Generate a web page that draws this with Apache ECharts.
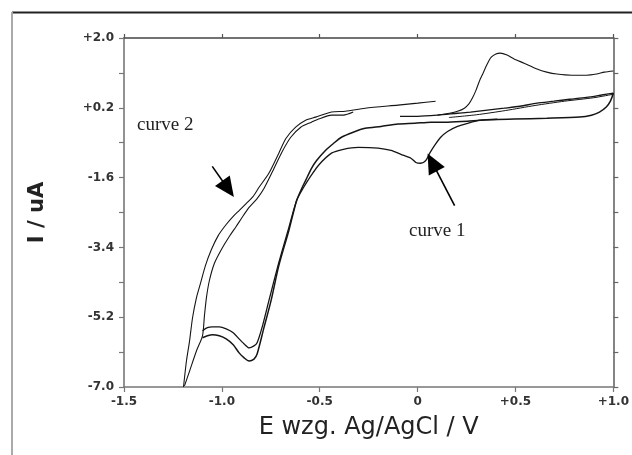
<!DOCTYPE html>
<html><head><meta charset="utf-8">
<script src="https://cdn.jsdelivr.net/npm/echarts@6/dist/echarts.min.js"></script>
<style>html,body{margin:0;padding:0;background:#fff}#c{width:632px;height:455px}</style>
</head><body><div id="c"></div>
<script>
// ---- axis ticks ----
const yTickLabels = [-7.0, -5.2, -3.4, -1.6, 0.2, 2.0];
const yMinorTicks = [-7.0, -6.1, -5.2, -4.3, -3.4, -2.5, -1.6, -0.7, 0.2, 1.1, 2.0];

// ---- traces [E (V), I (uA)] ----
const curve2Outer = [[-1.196,-7.0],[-1.181,-6.33],[-1.165,-5.81],[-1.150,-5.22],[-1.130,-4.70],[-1.110,-4.34],[-1.084,-3.87],[-1.054,-3.46],[-1.018,-3.09],[-0.978,-2.81],[-0.942,-2.60],[-0.912,-2.45],[-0.876,-2.27],[-0.841,-2.09],[-0.810,-1.85],[-0.760,-1.49],[-0.709,-0.97],[-0.673,-0.59],[-0.623,-0.30],[-0.572,-0.12],[-0.521,-0.04],[-0.440,0.09],[-0.369,0.11],[-0.268,0.19],[-0.100,0.27],[0.001,0.32],[0.092,0.37]];
const curve2Inner = [[-1.191,-6.97],[-1.165,-6.59],[-1.130,-6.07],[-1.099,-5.68],[-1.089,-5.16],[-1.079,-4.70],[-1.064,-4.26],[-1.039,-3.82],[-1.003,-3.46],[-0.962,-3.12],[-0.927,-2.86],[-0.897,-2.63],[-0.861,-2.37],[-0.820,-2.14],[-0.785,-1.88],[-0.744,-1.47],[-0.694,-0.95],[-0.648,-0.56],[-0.597,-0.30],[-0.542,-0.17],[-0.506,-0.09],[-0.440,0.01],[-0.379,0.01],[-0.329,0.09]];
const loopUpper = [[-1.099,-5.55],[-1.074,-5.47],[-1.049,-5.45],[-1.013,-5.45],[-0.978,-5.50],[-0.942,-5.60],[-0.912,-5.76],[-0.886,-5.89],[-0.861,-5.99],[-0.836,-5.94],[-0.820,-5.86],[-0.795,-5.47],[-0.760,-4.78],[-0.709,-3.79],[-0.658,-2.89],[-0.618,-2.19]];
const dipTrace = [[-0.582,-1.85],[-0.547,-1.57],[-0.506,-1.28],[-0.440,-0.97],[-0.379,-0.87],[-0.303,-0.82],[-0.202,-0.84],[-0.136,-0.90],[-0.085,-1.00],[-0.034,-1.10],[-0.009,-1.21],[0.016,-1.23],[0.042,-1.16],[0.062,-0.97],[0.087,-0.77],[0.118,-0.56],[0.153,-0.41],[0.204,-0.28],[0.255,-0.20],[0.320,-0.12],[0.407,-0.09]];
const loopLower = [[-1.099,-5.73],[-1.074,-5.68],[-1.049,-5.65],[-1.013,-5.68],[-0.978,-5.76],[-0.942,-5.91],[-0.912,-6.12],[-0.886,-6.25],[-0.861,-6.33],[-0.836,-6.28],[-0.820,-6.15],[-0.785,-5.47],[-0.749,-4.78],[-0.709,-3.87],[-0.658,-2.97],[-0.618,-2.19]];
const plateau = [[-0.592,-1.88],[-0.572,-1.67],[-0.542,-1.36],[-0.516,-1.16],[-0.471,-0.90],[-0.430,-0.72],[-0.389,-0.56],[-0.329,-0.43],[-0.268,-0.33],[-0.187,-0.28],[-0.100,-0.22],[-0.014,-0.20],[0.067,-0.17],[0.153,-0.17],[0.255,-0.15],[0.320,-0.12],[0.493,-0.09],[0.660,-0.07],[0.828,-0.04],[0.888,0.01],[0.929,0.09],[0.964,0.22],[0.985,0.37],[1.000,0.58]];
const upperBundle = [[-0.090,-0.02],[0.001,-0.02],[0.102,0.01],[0.204,0.06],[0.270,0.09],[0.356,0.14],[0.442,0.19],[0.523,0.24],[0.610,0.32],[0.696,0.37],[0.777,0.42],[0.863,0.47],[0.939,0.53],[1.000,0.58]];
const upperBundle2 = [[0.160,-0.05],[0.300,0.02],[0.450,0.13],[0.600,0.26],[0.750,0.37],[0.900,0.46],[1.000,0.55]];
const peakCurve = [[0.102,0.01],[0.163,0.06],[0.204,0.11],[0.239,0.19],[0.262,0.30],[0.280,0.45],[0.298,0.65],[0.315,0.88],[0.335,1.10],[0.355,1.32],[0.375,1.50],[0.400,1.59],[0.422,1.61],[0.457,1.56],[0.493,1.46],[0.544,1.35],[0.610,1.20],[0.660,1.12],[0.711,1.07],[0.787,1.04],[0.863,1.04],[0.914,1.07],[0.954,1.12],[1.000,1.15]];

// ---- annotation arrows (data coords: from, to) ----
const arrowCurve2 = [[-1.049,-1.31],[-0.968,-1.892]];
const arrowCurve1 = [[0.189,-2.32],[0.0745,-1.207]];

const chart = echarts.init(document.getElementById('c'), null, {renderer:'canvas'});

const fmtY = v => (v > 0 ? '+' : '') + Number(v).toFixed(1);
const fmtX = v => Math.abs(v) < 1e-9 ? '0' : (v > 0 ? '+' : '') + Number(v).toFixed(1);
const axisGray = '#777';
const labelStyle = {fontFamily:'DejaVu Sans', fontWeight:'bold', fontSize:12, color:'#333'};

function ln(data, width) {
  return {type:'line', data:data, symbol:'none', showSymbol:false, smooth:0.25,
    lineStyle:{color:'#151515', width:width}, silent:true, animation:false, clip:true, z:3};
}

const series = [
  ln(curve2Outer, 1.1),
  ln(curve2Inner, 1.1),
  ln(loopUpper.concat(dipTrace), 1.3),
  ln(loopLower.concat(plateau), 1.5),
  ln(upperBundle, 1.3),
  ln(upperBundle2, 1.0),
  ln(peakCurve, 1.1)
];
series[0].markLine = {
  silent:true, animation:false, symbol:['none','triangle'], symbolSize:[18,20],
  itemStyle:{color:'#000'}, lineStyle:{color:'#000', width:1.6, type:'solid'}, label:{show:false},
  emphasis:{disabled:true},
  data:[
    [{coord:arrowCurve2[0]},{coord:arrowCurve2[1]}],
    [{coord:arrowCurve1[0]},{coord:arrowCurve1[1]}]
  ]
};

chart.setOption({
  backgroundColor:'#fff',
  animation:false,
  grid:{left:124, right:15, top:38, bottom:68, containLabel:false},
  xAxis:[{
    type:'value', min:-1.5, max:1.0, interval:0.5, position:'bottom',
    axisLine:{show:true, onZero:false, lineStyle:{color:axisGray, width:1.6}},
    axisTick:{show:true, length:5, lineStyle:{color:axisGray, width:1.2}},
    axisLabel:Object.assign({formatter:fmtX, margin:9}, labelStyle),
    splitLine:{show:false},
    name:'E wzg. Ag/AgCl / V', nameLocation:'middle', nameGap:29,
    nameTextStyle:{fontFamily:'DejaVu Sans', fontSize:24, color:'#222'}
  },{
    type:'value', min:-1.5, max:1.0, interval:0.5, position:'top',
    axisLine:{show:true, onZero:false, lineStyle:{color:'#444', width:1.6}},
    axisTick:{show:true, length:4, lineStyle:{color:'#555', width:1.2}},
    axisLabel:{show:false}, splitLine:{show:false}
  }],
  yAxis:[{
    type:'value', min:-7, max:2, position:'left',
    axisLine:{show:true, onZero:false, lineStyle:{color:axisGray, width:1.6}},
    axisTick:{show:true, length:5, customValues:yMinorTicks, lineStyle:{color:axisGray, width:1.2}},
    axisLabel:Object.assign({formatter:fmtY, margin:10, customValues:yTickLabels}, labelStyle),
    splitLine:{show:false},
    name:'I / uA', nameLocation:'middle', nameGap:76,
    nameTextStyle:{fontFamily:'DejaVu Sans', fontWeight:'bold', fontSize:21, color:'#222'}
  },{
    type:'value', min:-7, max:2, position:'right',
    axisLine:{show:true, onZero:false, lineStyle:{color:'#666', width:1.6}},
    axisTick:{show:true, length:5, customValues:yMinorTicks, lineStyle:{color:'#666', width:1.2}},
    axisLabel:{show:false}, splitLine:{show:false}
  }],
  graphic:[
    {type:'line', shape:{x1:12, y1:12.5, x2:632, y2:12.5}, style:{stroke:'#222', lineWidth:2}, silent:true},
    {type:'line', shape:{x1:12, y1:12, x2:12, y2:455}, style:{stroke:'#aaa', lineWidth:2}, silent:true},
    {type:'text', x:137, y:125, silent:true, style:{text:'curve 2', font:'19px "Liberation Serif"', fill:'#222', align:'left', verticalAlign:'middle'}},
    {type:'text', x:409, y:231, silent:true, style:{text:'curve 1', font:'19px "Liberation Serif"', fill:'#222', align:'left', verticalAlign:'middle'}}
  ],
  series:series
});
</script></body></html>
